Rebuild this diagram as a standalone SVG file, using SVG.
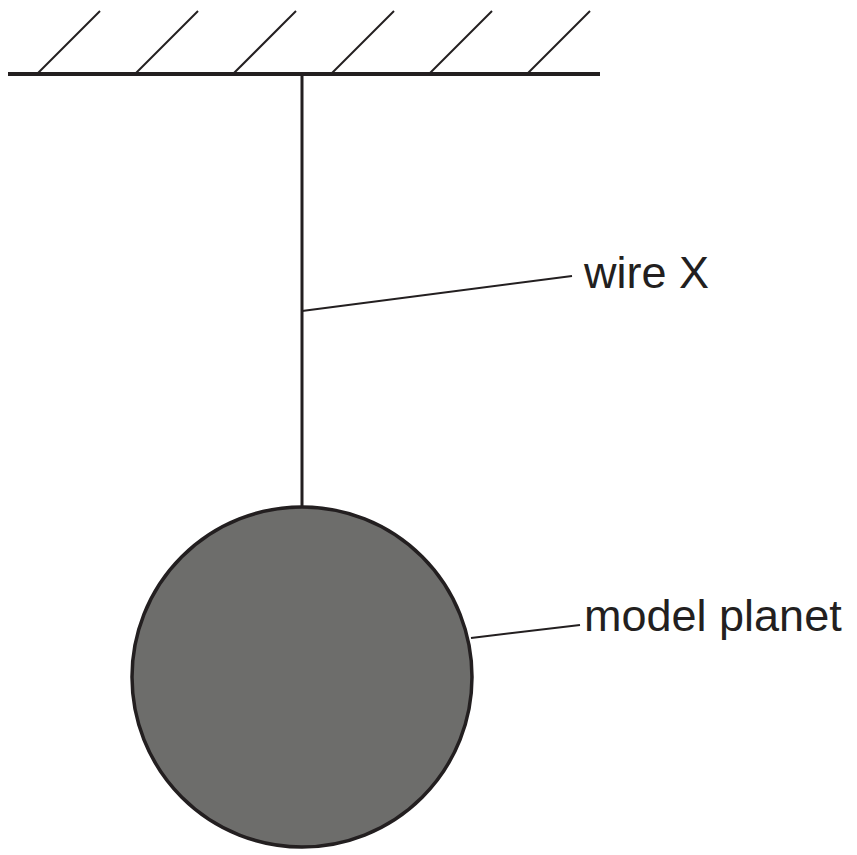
<svg xmlns="http://www.w3.org/2000/svg" width="857" height="855" viewBox="0 0 857 855">
<style>
.l{stroke:#231f20;fill:none}
.t{font-family:"Liberation Sans",Arial,sans-serif;font-size:45px;fill:#231f20}
</style>
<rect width="857" height="855" fill="#fff"/>
<g id="ceiling" class="l">
<line x1="8" y1="74" x2="600" y2="74" stroke-width="4"/>
<g stroke-width="2">
<line x1="37" y1="74" x2="100" y2="11"/>
<line x1="135" y1="74" x2="198" y2="11"/>
<line x1="233" y1="74" x2="296" y2="11"/>
<line x1="331" y1="74" x2="394" y2="11"/>
<line x1="429" y1="74" x2="492" y2="11"/>
<line x1="527" y1="74" x2="590" y2="11"/>
</g>
</g>
<g id="wire"><line class="l" x1="302" y1="74" x2="302" y2="508" stroke-width="3"/></g>
<g id="planet"><circle cx="302" cy="677" r="170" fill="#6d6d6b" stroke="#231f20" stroke-width="3.5"/></g>
<g id="connectors" class="l" stroke-width="2">
<line x1="302" y1="311" x2="572" y2="276"/>
<line x1="471" y1="638" x2="580" y2="625"/>
</g>
<g id="labels">
<text class="t" x="584" y="288">wire X</text>
<text class="t" x="584" y="631">model planet</text>
</g>
</svg>
